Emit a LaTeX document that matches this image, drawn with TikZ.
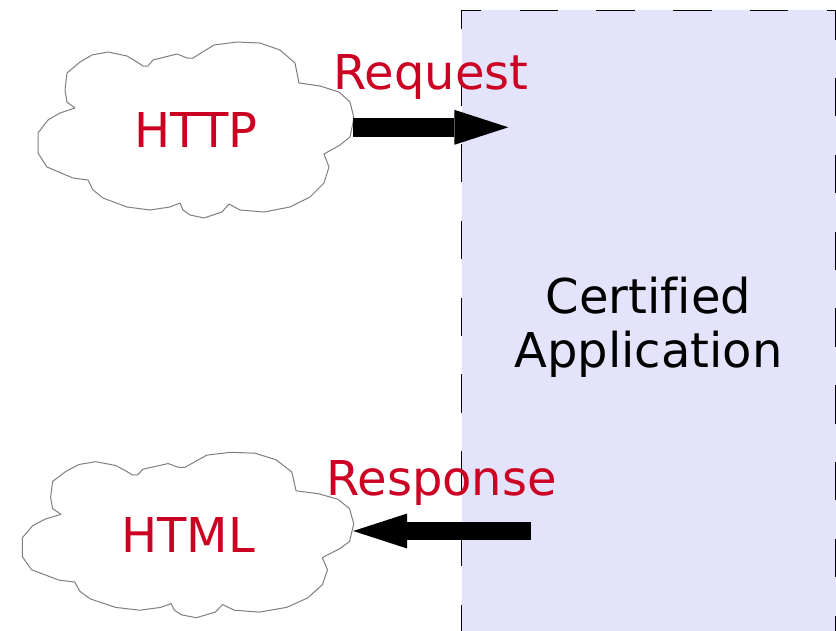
\documentclass[tikz,border=0pt]{standalone}
\usepackage{fontspec}
\setmainfont[Ligatures=NoCommon]{DejaVu Sans}
\usepackage{tikz}
\usetikzlibrary{arrows.meta,positioning}
\definecolor{certred}{HTML}{CC0022}
\definecolor{certlav}{HTML}{E3E3FB}
\definecolor{cloudgray}{HTML}{7F7F7F}

\tikzset{
  pics/raggedcloud/.style={code={
    \draw[draw=cloudgray,line width=1pt,line join=round,fill=white]
      (-121,-22) -- (-129,-28) -- (-131,-40) -- (-129,-57) -- (-116,-68) -- (-104,-75)
      -- (-88,-78) -- (-69,-74) -- (-59,-68) -- (-53,-64) -- (-48,-64) -- (-43,-70)
      -- (-19,-76) -- (-9,-72) -- (-3,-72) -- (18,-85) -- (41,-88) -- (64,-87)
      -- (84,-80) -- (99,-67) -- (103,-47) -- (124,-44) -- (143,-38) -- (154,-28)
      -- (158,-12) -- (154,7) -- (144,15) -- (128,24) -- (133,37) -- (128,53)
      -- (114,67) -- (94,77) -- (68,82) -- (44,80) -- (33,74) -- (26,82)
      -- (8,88) -- (-6,85) -- (-13,80) -- (-16,73) -- (-26,77) -- (-46,80)
      -- (-69,77) -- (-93,68) -- (-103,60) -- (-108,50) -- (-123,48) -- (-149,37)
      -- (-158,23) -- (-158,3) -- (-148,-10) -- (-136,-17) -- cycle;
  }}
}

\begin{document}
\begin{tikzpicture}[x=1pt,y=-1pt,
  bigtext/.style={font=\fontsize{48}{54}\selectfont,inner sep=0pt},
  cloudtext/.style={bigtext,text=certred,minimum height=170pt},
  flowlabel/.style={bigtext,text=certred,anchor=base},
  appbox/.style={bigtext,draw=black,line width=1pt,fill=certlav,
    dash pattern=on 38.4pt off 38.4pt,dash phase=20pt,
    minimum width=374pt,minimum height=634pt,align=center},
  flow/.style={line width=18.4pt,-{Triangle[width=35pt,length=54pt,line width=0pt]}}]
\clip (0,0) rectangle (836,630);

% the application as one tall box
\node[appbox] (app) at (648.5,327) {Certified\\Application};

% clouds with their texts
\node[cloudtext,minimum width=314pt] (http) at (196,130) {HTTP};
\pic at (http.center) {raggedcloud};
\node[cloudtext] at (http.center) {HTTP};
\node[cloudtext,minimum width=330pt] (html) at (188,535) {HTML};
\pic[xscale=1.049,yscale=0.94] at (html.center) {raggedcloud};
\node[cloudtext] at (html.center) {HTML};

% request in, response out
\coordinate (reqtip) at (508.3,127.3);
\coordinate (resend) at (531,531);
\draw[flow] (http.east |- reqtip) -- (reqtip);
\draw[flow] (resend) -- (html.east |- resend);

\node[flowlabel] (reqlabel) at (431,89) {Request};
\node[flowlabel] (reslabel) at (441.5,495) {Response};
\end{tikzpicture}
\end{document}
